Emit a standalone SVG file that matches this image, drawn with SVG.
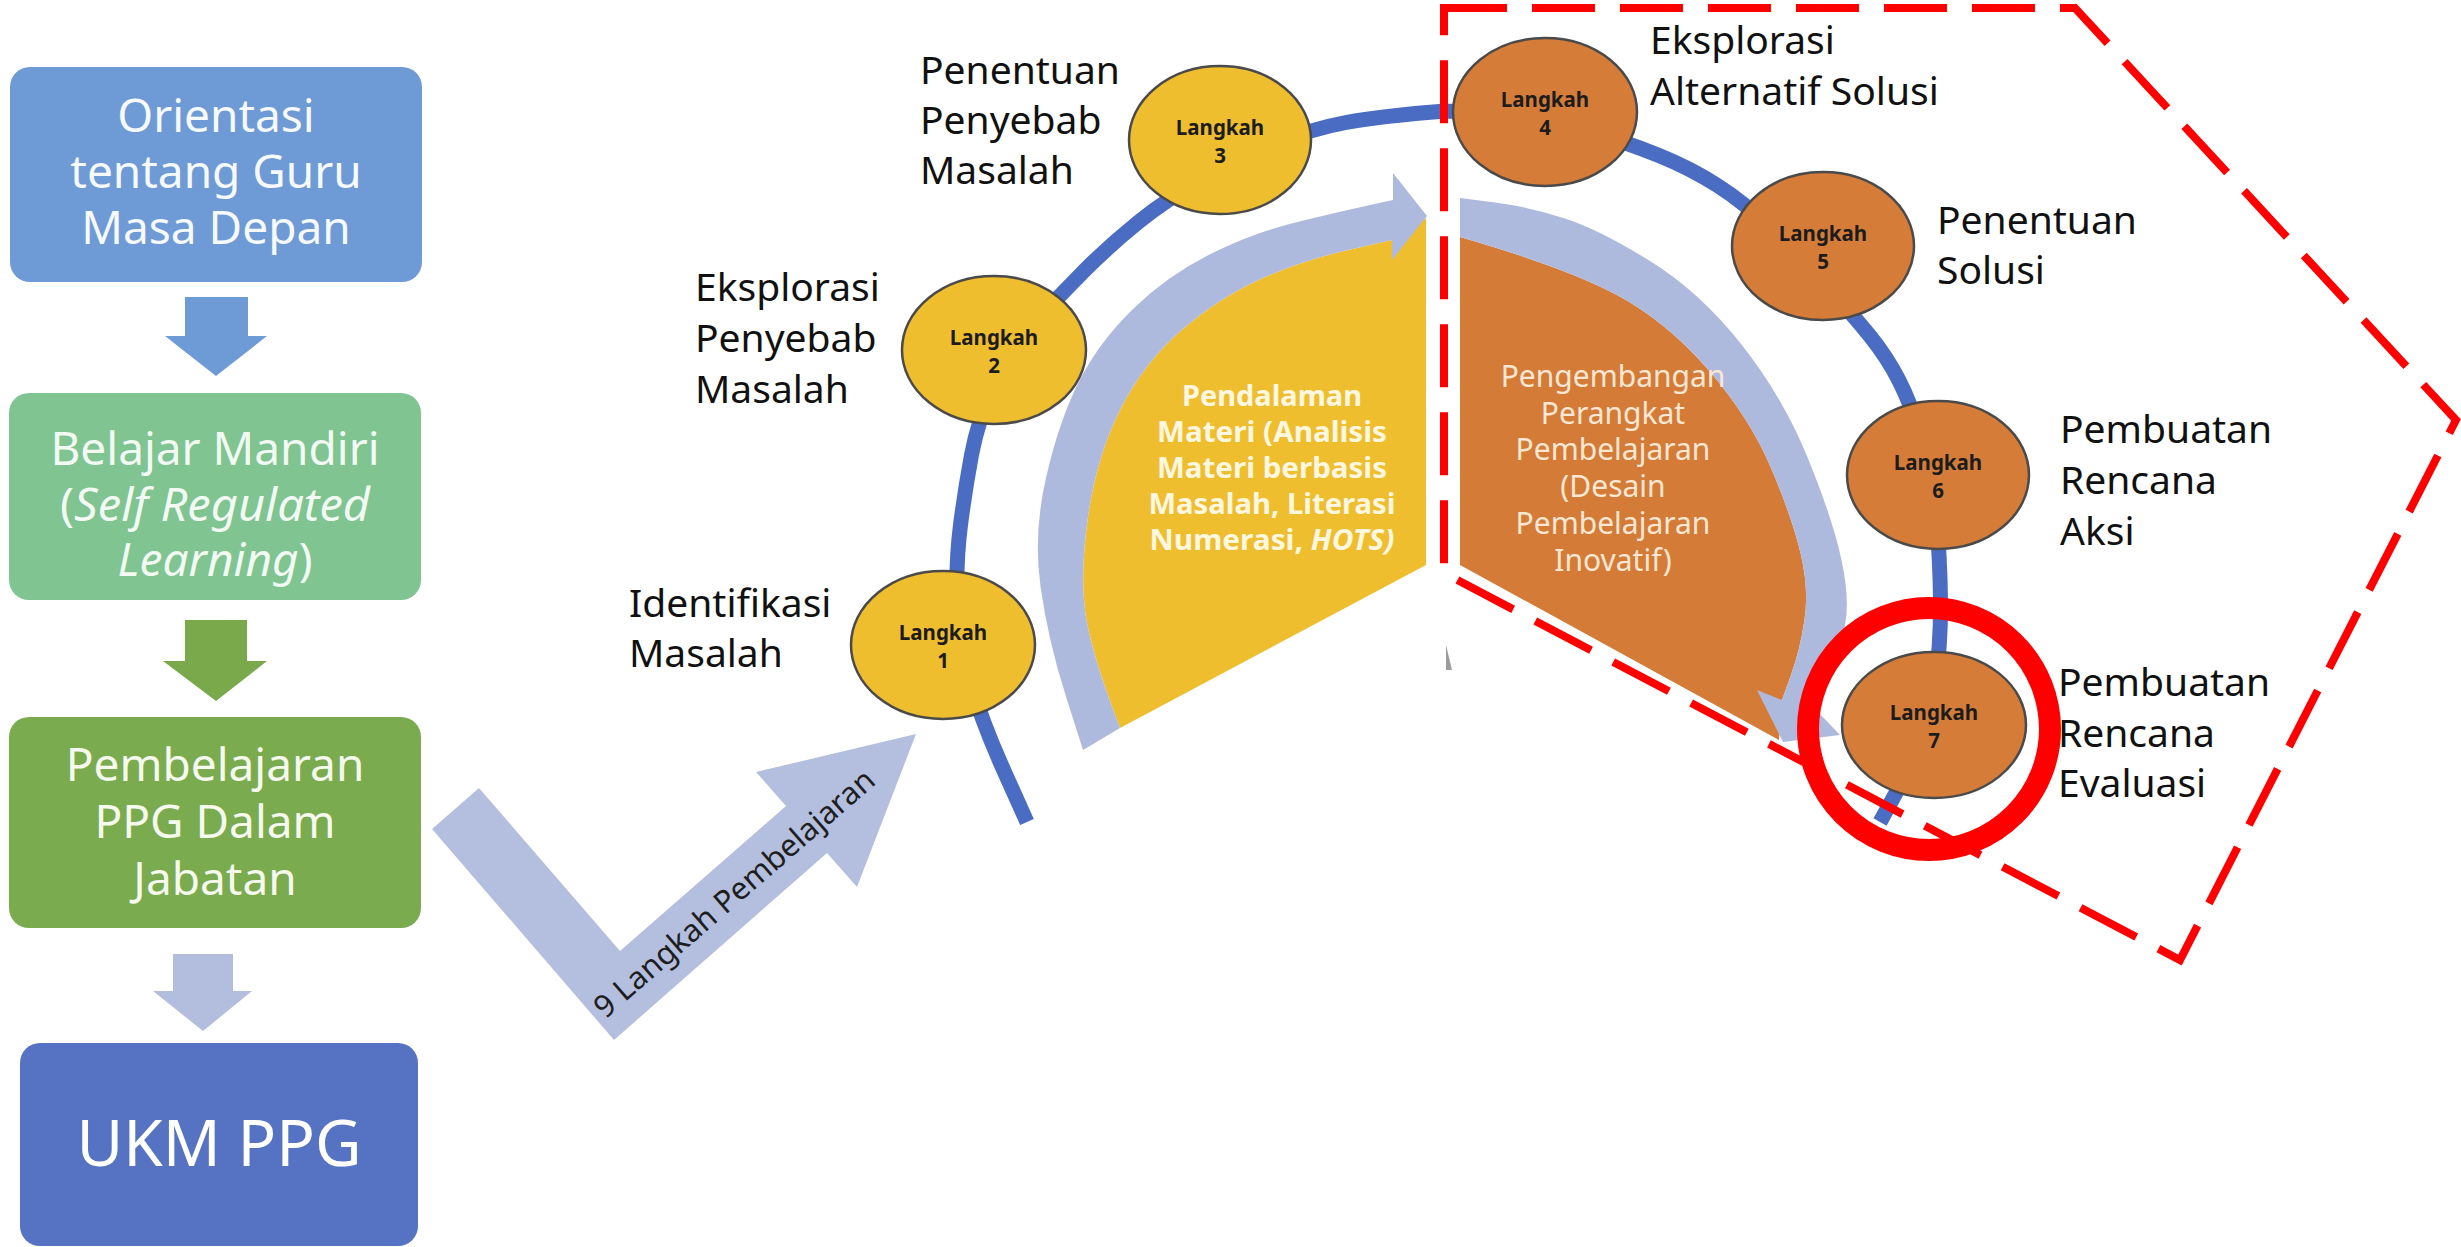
<svg xmlns="http://www.w3.org/2000/svg" width="2461" height="1247" viewBox="0 0 2461 1247">
<style>
text { font-family: "Noto Sans", "Open Sans", "DejaVu Sans", sans-serif; }
.bt { font-size: 46px; text-anchor: middle; }
.lb { font-size: 39px; fill: #111111; }
.lk { font-size: 20.5px; font-weight: 700; fill: #1c1c1c; text-anchor: middle; }
.yt { font-size: 28px; font-weight: 700; fill: #fff7e0; text-anchor: middle; }
.ot { font-size: 30px; fill: #fbe7d3; text-anchor: middle; }
.y { fill: #efbe2f; stroke: #4a4a4a; stroke-width: 2.5; }
.o { fill: #d57c38; stroke: #4a4a4a; stroke-width: 2.5; }
.lav { fill: #aeb9de; }
</style>
<rect width="2461" height="1247" fill="#ffffff"/>

<!-- left flow boxes -->
<g id="box-orientasi">
  <rect x="10" y="67" width="412" height="215" rx="20" fill="#6e9bd6"/>
  <text class="bt" fill="#f6f9fd" x="216" y="132">Orientasi</text>
  <text class="bt" fill="#f6f9fd" x="216" y="188">tentang Guru</text>
  <text class="bt" fill="#f6f9fd" x="216" y="244">Masa Depan</text>
</g>
<g id="box-belajar">
  <rect x="9" y="393" width="412" height="207" rx="20" fill="#7fc491"/>
  <text class="bt" fill="#f2faf3" x="215" y="465">Belajar Mandiri</text>
  <text class="bt" fill="#f2faf3" x="215" y="521" textLength="310" lengthAdjust="spacingAndGlyphs">(<tspan font-style="italic">Self Regulated</tspan></text>
  <text class="bt" fill="#f2faf3" x="215" y="576"><tspan font-style="italic">Learning</tspan>)</text>
</g>
<g id="box-pembelajaran">
  <rect x="9" y="717" width="412" height="211" rx="20" fill="#7aab4f"/>
  <text class="bt" fill="#f5f9ee" x="215" y="781">Pembelajaran</text>
  <text class="bt" fill="#f5f9ee" x="215" y="838">PPG Dalam</text>
  <text class="bt" fill="#f5f9ee" x="215" y="895">Jabatan</text>
</g>
<g id="box-ukm">
  <rect x="20" y="1043" width="398" height="203" rx="20" fill="#5573c2"/>
  <text fill="#ffffff" x="219" y="1166" font-size="64" text-anchor="middle">UKM PPG</text>
</g>

<!-- connectors -->
<g id="connectors">
  <polygon points="185,297 248,297 248,336 267,336 216,376 165,336 185,336" fill="#6e9bd6"/>
  <polygon points="185,620 247,620 247,661 267,661 216,701 163,661 185,661" fill="#79a94b"/>
  <polygon points="173,954 233,954 233,991 252,991 203,1031 153,991 173,991" fill="#b3bedf"/>
  <g id="arrow-9-langkah">
    <polygon points="432,829 479,788 620,951 786,806 756,772 916,734 857,887 827,853 614,1040" fill="#b4bfdf"/>
    <text x="734" y="893" font-size="31" fill="#1e1e1e" text-anchor="middle" transform="rotate(-41 734 893)" dy="11">9 Langkah Pembelajaran</text>
  </g>
  <path id="arc-line" fill="none" stroke="#4a6cc3" stroke-width="15"
    d="M1027,822 L1004.5,772 Q982,722 970,681 Q958,640 957,600 Q956,560 960.5,525 Q965,490 971.5,455 Q978,420 994,385 Q1010,350 1035,322.5 Q1060,295 1085,270 Q1110,245 1138.5,222 Q1167,199 1203.5,178.5 Q1240,158 1275.5,143.5 Q1311,129 1346,122.5 Q1381,116 1446,111 L1495.5,114 Q1545,117 1586.5,130 Q1628,143 1659,155.5 Q1690,168 1717.5,185.5 Q1745,203 1772.5,230 Q1800,257 1826.5,286 Q1853,315 1870,336 Q1887,357 1899,380.5 Q1911,404 1922,439.5 Q1933,475 1936.5,517.5 Q1940,560 1940.5,600 Q1941,640 1935.5,685 Q1930,730 1912.5,762.5 Q1895,795 1880,822"/>
</g>

<!-- central phase shapes -->
<g id="phase-pendalaman">
  <path fill="#efbe2e" d="M1120,728 Q1090,650 1085,610.5 Q1080,571 1088.5,513.5 Q1097,456 1120,410 Q1143,364 1180,331.5 Q1217,299 1258.5,280 Q1300,261 1346,250.5 L1392,240 L1426,218 L1426,565 Z"/>
  <path class="lav" d="M1083,750 L1065.5,695 Q1048,640 1040.5,586.5 Q1033,533 1046.5,475.5 Q1060,418 1080,379.5 Q1100,341 1133.5,308.5 Q1167,276 1208.5,255 Q1250,234 1291.5,223.5 Q1333,213 1393,200 L1393,173 L1427,216 L1392,260 L1392,240 L1346,250.5 Q1300,261 1258.5,280 Q1217,299 1180,331.5 Q1143,364 1120,410 Q1097,456 1088.5,513.5 Q1080,571 1085,610.5 Q1090,650 1120,728 Z"/>
  <text class="yt" x="1272" y="406" textLength="180" lengthAdjust="spacingAndGlyphs">Pendalaman</text>
  <text class="yt" x="1272" y="442" textLength="230" lengthAdjust="spacingAndGlyphs">Materi (Analisis</text>
  <text class="yt" x="1272" y="478" textLength="230" lengthAdjust="spacingAndGlyphs">Materi berbasis</text>
  <text class="yt" x="1272" y="514" textLength="247" lengthAdjust="spacingAndGlyphs">Masalah, Literasi</text>
  <text class="yt" x="1272" y="550" textLength="245" lengthAdjust="spacingAndGlyphs">Numerasi, <tspan font-style="italic">HOTS)</tspan></text>
</g>
<polygon points="1446,645 1452,670 1446,670" fill="#9c9c9c"/>
<g id="phase-pengembangan">
  <path fill="#d47b37" d="M1460,237 Q1567,268 1617,295 Q1667,322 1708.5,370 Q1750,418 1771.5,469 Q1793,520 1801,555 Q1809,590 1804.5,620 Q1800,650 1791,675 L1782,700 L1779,740 L1460,565 Z"/>
  <path class="lav" d="M1460,198 L1495,202.5 Q1530,207 1565,218.5 Q1600,230 1650,261 Q1700,292 1741.5,344.5 Q1783,397 1808,458.5 Q1833,520 1841.5,560 Q1850,600 1845,625 Q1840,650 1831,675 L1818,712 L1840,735 L1783,742 L1757,690 L1782,700 L1791,675 Q1800,650 1804.5,620 Q1809,590 1801,555 Q1793,520 1771.5,469 Q1750,418 1708.5,370 Q1667,322 1617,295 Q1567,268 1460,237 Z"/>
  <text class="ot" x="1613" y="387">Pengembangan</text>
  <text class="ot" x="1613" y="424">Perangkat</text>
  <text class="ot" x="1613" y="460">Pembelajaran</text>
  <text class="ot" x="1613" y="497">(Desain</text>
  <text class="ot" x="1613" y="534">Pembelajaran</text>
  <text class="ot" x="1613" y="571">Inovatif)</text>
</g>

<!-- step nodes -->
<g id="langkah-1">
  <ellipse class="y" cx="943" cy="645" rx="92" ry="74"/>
  <text class="lk" x="943" y="640">Langkah</text>
  <text class="lk" x="943" y="668">1</text>
  <text class="lb" x="629" y="617">Identifikasi</text>
  <text class="lb" x="629" y="667">Masalah</text>
</g>
<g id="langkah-2">
  <ellipse class="y" cx="994" cy="350" rx="92" ry="74"/>
  <text class="lk" x="994" y="345">Langkah</text>
  <text class="lk" x="994" y="373">2</text>
  <text class="lb" x="695" y="301">Eksplorasi</text>
  <text class="lb" x="695" y="352">Penyebab</text>
  <text class="lb" x="695" y="403">Masalah</text>
</g>
<g id="langkah-3">
  <ellipse class="y" cx="1220" cy="140" rx="91" ry="74"/>
  <text class="lk" x="1220" y="135">Langkah</text>
  <text class="lk" x="1220" y="163">3</text>
  <text class="lb" x="920" y="84">Penentuan</text>
  <text class="lb" x="920" y="134">Penyebab</text>
  <text class="lb" x="920" y="184">Masalah</text>
</g>
<g id="langkah-4">
  <ellipse class="o" cx="1545" cy="112" rx="92" ry="74"/>
  <text class="lk" x="1545" y="107">Langkah</text>
  <text class="lk" x="1545" y="135">4</text>
  <text class="lb" x="1650" y="54">Eksplorasi</text>
  <text class="lb" x="1650" y="105">Alternatif Solusi</text>
</g>
<g id="langkah-5">
  <ellipse class="o" cx="1823" cy="246" rx="91" ry="74"/>
  <text class="lk" x="1823" y="241">Langkah</text>
  <text class="lk" x="1823" y="269">5</text>
  <text class="lb" x="1937" y="234">Penentuan</text>
  <text class="lb" x="1937" y="284">Solusi</text>
</g>
<g id="langkah-6">
  <ellipse class="o" cx="1938" cy="475" rx="91" ry="74"/>
  <text class="lk" x="1938" y="470">Langkah</text>
  <text class="lk" x="1938" y="498">6</text>
  <text class="lb" x="2060" y="443">Pembuatan</text>
  <text class="lb" x="2060" y="494">Rencana</text>
  <text class="lb" x="2060" y="545">Aksi</text>
</g>
<g id="langkah-7">
  <ellipse class="o" cx="1934" cy="725" rx="92" ry="73"/>
  <text class="lk" x="1934" y="720">Langkah</text>
  <text class="lk" x="1934" y="748">7</text>
  <text class="lb" x="2058" y="696">Pembuatan</text>
  <text class="lb" x="2058" y="747">Rencana</text>
  <text class="lb" x="2058" y="797">Evaluasi</text>
</g>

<!-- highlights -->
<g id="highlight">
  <path d="M1444,8 L2075,8 L2456,420 L2180,960 L1444,573 Z" fill="none" stroke="#ff0000" stroke-width="8" stroke-dasharray="63 25"/>
  <circle cx="1929" cy="729" r="121" fill="none" stroke="#ff0000" stroke-width="22"/>
</g>
</svg>
